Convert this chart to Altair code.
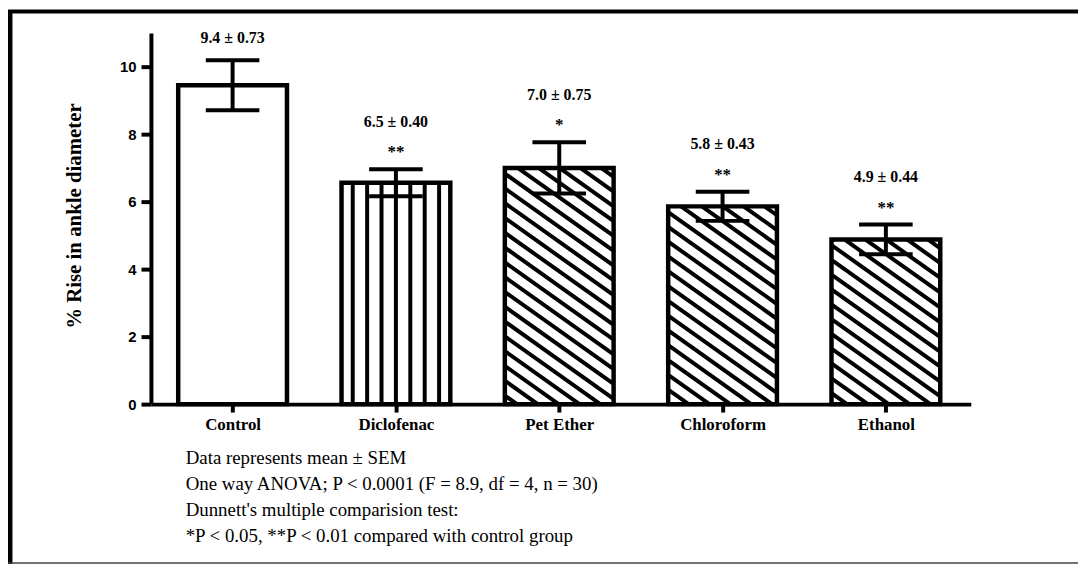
import json
import altair as alt
import numpy as np
import pandas as pd

# ---------------- data ----------------
groups = ["Control", "Diclofenac", "Pet Ether", "Chloroform", "Ethanol"]
means = [9.45, 6.56, 7.00, 5.86, 4.88]
sems = [0.74, 0.40, 0.76, 0.43, 0.44]
value_labels = ["9.4 ± 0.73", "6.5 ± 0.40", "7.0 ± 0.75", "5.8 ± 0.43", "4.9 ± 0.44"]
stars = ["", "**", "*", "**", "**"]
patterns = ["open", "vertical", "diagonal", "diagonal", "diagonal"]
y_ticks = [0, 2, 4, 6, 8, 10]
notes = [
    "Data represents mean ± SEM",
    "One way ANOVA; P < 0.0001 (F = 8.9, df = 4, n = 30)",
    "Dunnett's multiple comparision test:",
    "*P < 0.05, **P < 0.01 compared with control group",
]

# ---------------- layout ----------------
W, H = 826, 374
X_DOM = [-0.5, 4.52]
Y_DOM = [0, 11]
PX_X = W / (X_DOM[1] - X_DOM[0])
PX_Y = H / (Y_DOM[1] - Y_DOM[0])
HALF = 0.333   # bar half-width (x units)
CAP = 0.164    # error cap half-width (x units)

df = pd.DataFrame(dict(idx=list(range(len(groups))), group=groups, mean=means,
                       sem=sems, label=value_labels, star=stars))

# hatch segments derived from each bar's extent
rows = []
for i, (m, p) in enumerate(zip(means, patterns)):
    xl, xr = -HALF * PX_X, HALF * PX_X
    yt, yb = -m * PX_Y, 0.0
    if p == "vertical":
        for k in range(-3, 4):
            xo = k * 14.5 / PX_X
            rows.append(dict(x=i + xo, x2=i + xo, y=0.0, y2=m))
    elif p == "diagonal":
        s = 0.71
        gap = 21.0 * s
        cmin, cmax = yt - s * xr, yb - s * xl
        c = cmin + gap * 0.6
        while c < cmax:
            xa = max(xl, (yt - c) / s)
            xb = min(xr, (yb - c) / s)
            if xb - xa > 0.5:
                rows.append(dict(x=i + xa / PX_X, x2=i + xb / PX_X,
                                 y=-(s * xa + c) / PX_Y, y2=-(s * xb + c) / PX_Y))
            c += gap
hatch = pd.DataFrame(rows)

xscale = alt.Scale(domain=X_DOM, nice=False, zero=False)
yscale = alt.Scale(domain=Y_DOM, nice=False, zero=False)

xaxis = alt.Axis(values=list(range(len(groups))),
                 labelExpr=f"{json.dumps(groups)}[round(datum.value)]",
                 domainWidth=4, domainColor="black", tickWidth=4, tickColor="black",
                 tickSize=8, labelFont="Liberation Serif", labelFontWeight="bold",
                 labelFontSize=17, labelColor="black", labelPadding=5, grid=False,
                 labelFlush=False, title=None)
yaxis = alt.Axis(values=y_ticks, domainWidth=4, domainColor="black", tickWidth=4,
                 tickColor="black", tickSize=10, labelFont="Liberation Sans",
                 labelFontWeight="bold", labelFontSize=15, labelColor="black",
                 labelPadding=5, grid=False, title="% Rise in ankle diameter",
                 titleFont="Liberation Serif", titleFontSize=21, titleFontWeight="bold",
                 titleColor="black", titleX=-77, titleY=H / 2 - 3, titleAngle=-90,
                 titleAlign="center", titleBaseline="middle")


def X(f):
    return alt.X(f, type="quantitative", scale=xscale, axis=xaxis)


def Y(f):
    return alt.Y(f, type="quantitative", scale=yscale, axis=yaxis)


base = alt.Chart(df).transform_calculate(
    xa="datum.idx - %f" % HALF, xb="datum.idx + %f" % HALF,
    ca="datum.idx - %f" % CAP, cb="datum.idx + %f" % CAP,
    lo="datum.mean - datum.sem", hi="datum.mean + datum.sem", zero="0",
)

fill = base.mark_rect(fill="white", stroke=None).encode(
    x=X("xa:Q"), x2="xb:Q", y=Y("zero:Q"), y2="mean:Q")

hatch_layer = alt.Chart(hatch).mark_rule(color="black", strokeWidth=4, strokeCap="butt").encode(
    x=X("x:Q"), x2="x2:Q", y=Y("y:Q"), y2="y2:Q")

outline = base.mark_rect(fillOpacity=0, fill="white", stroke="black", strokeWidth=4.5).encode(
    x=X("xa:Q"), x2="xb:Q", y=Y("zero:Q"), y2="mean:Q")

err = base.mark_rule(color="black", strokeWidth=4).encode(x=X("idx:Q"), y=Y("lo:Q"), y2="hi:Q")
cap_hi = base.mark_rule(color="black", strokeWidth=4).encode(x=X("ca:Q"), x2="cb:Q", y=Y("hi:Q"))
cap_lo = base.mark_rule(color="black", strokeWidth=4).encode(x=X("ca:Q"), x2="cb:Q", y=Y("lo:Q"))

txt_kw = dict(font="Liberation Serif", fontWeight="bold", color="black", baseline="middle")
star_t = base.transform_filter("datum.star != ''").mark_text(dy=-17, fontSize=17, **txt_kw).encode(
    x=X("idx:Q"), y=Y("hi:Q"), text="star:N")
lab_s = base.transform_filter("datum.star != ''").mark_text(dy=-48, fontSize=16, **txt_kw).encode(
    x=X("idx:Q"), y=Y("hi:Q"), text="label:N")
lab_n = base.transform_filter("datum.star == ''").mark_text(dy=-22, fontSize=16, **txt_kw).encode(
    x=X("idx:Q"), y=Y("hi:Q"), text="label:N")

one = alt.Chart(pd.DataFrame({"a": [0]}))
note_t = one.mark_text(align="left", baseline="alphabetic", font="Liberation Serif",
                       fontSize=19, lineHeight=26.3, color="black").encode(
    x=alt.value(35), y=alt.value(434), text=alt.value(notes))

frame_left = one.mark_rule(color="black", strokeWidth=5).encode(
    x=alt.value(-142), y=alt.value(-23), y2=alt.value(535))
frame_top = one.mark_rule(color="black", strokeWidth=4).encode(
    x=alt.value(-145), x2=alt.value(940), y=alt.value(-21.5))
frame_bot = one.mark_rule(color="#444444", strokeWidth=1.5).encode(
    x=alt.value(-145), x2=alt.value(940), y=alt.value(534))

chart = alt.layer(fill, hatch_layer, outline, err, cap_hi, cap_lo, star_t, lab_s, lab_n,
                  note_t, frame_left, frame_top, frame_bot).properties(
    width=W, height=H, autosize="none", background="white",
    padding={"left": 144, "top": 23, "right": 108, "bottom": 162},
).configure_view(strokeWidth=0, stroke=None)

chart.save("out.html", embed_options={"renderer": "svg", "actions": False})
